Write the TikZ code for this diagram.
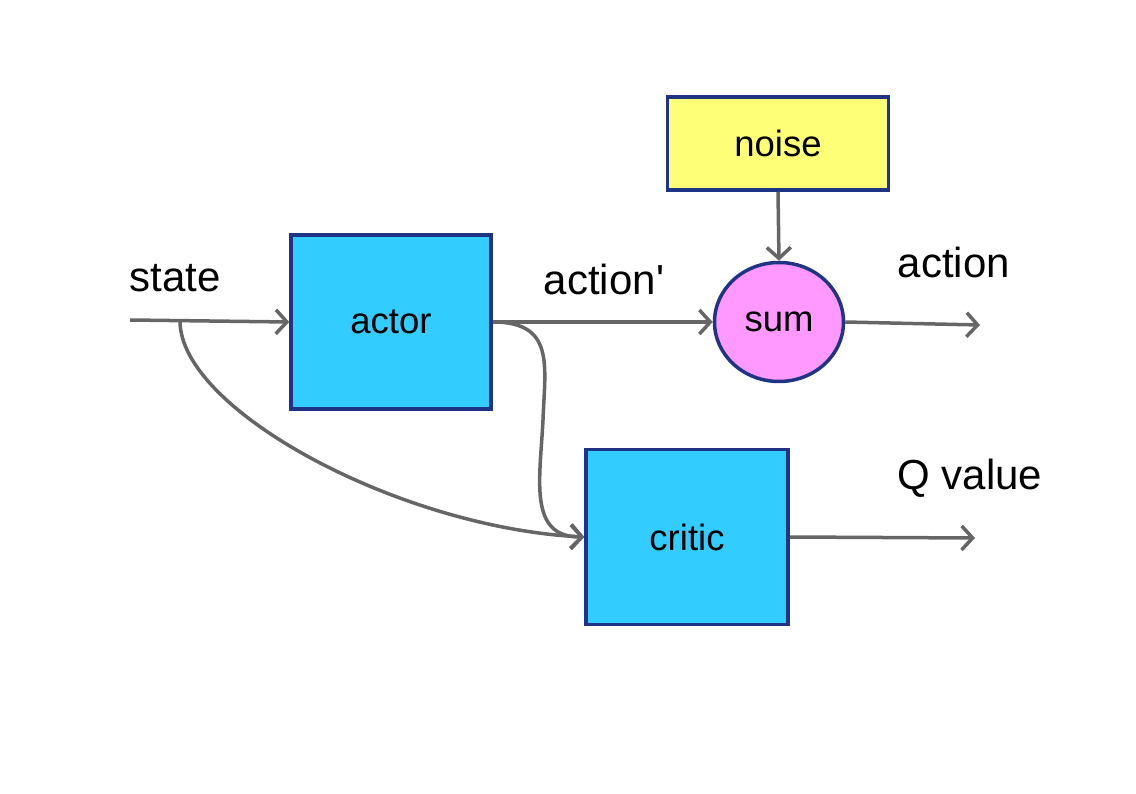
\documentclass[tikz,border=0pt]{standalone}
\usepackage{fontspec}
\setmainfont{Liberation Sans}
\usetikzlibrary{arrows.meta,shapes.geometric}
\definecolor{boxblue}{HTML}{33CCFF}
\definecolor{edgeblue}{HTML}{1F3485}
\definecolor{noisey}{HTML}{FFFF77}
\definecolor{sumpink}{HTML}{FF99FF}
\definecolor{wire}{HTML}{666666}
\begin{document}
\begin{tikzpicture}[x=1pt,y=-1pt,
  blk/.style={draw=edgeblue,line width=3.5pt,fill=boxblue,minimum width=200pt,minimum height=174pt,inner sep=0pt,font=\fontsize{36.5}{40}\selectfont},
  lbl/.style={font=\fontsize{42}{48}\selectfont,inner sep=0pt},
  wirestyle/.style={draw=wire,line width=3.5pt,-{Straight Barb[length=11pt,width=24pt]}}]
\useasboundingbox (0,0) rectangle (1136,794);
\node[blk] (actor) at (391,322) {actor};
\node[blk,minimum width=202pt,minimum height=175pt] (critic) at (687,537) {critic};
\node[blk,fill=noisey,minimum width=221pt,minimum height=93pt] (noise) at (778,143.5) {noise};
\node[ellipse,draw=edgeblue,line width=3.5pt,fill=sumpink,minimum width=129pt,minimum height=119pt,inner sep=0pt,font=\fontsize{36.5}{40}\selectfont] (sum) at (779,322) {\raisebox{-2pt}{sum}};
\coordinate (sin) at (130,320);
\coordinate (br) at (180,321);
\coordinate (aout) at (980,325);
\coordinate (qout) at (975,538);
\node[lbl] (lstate) at (175,278) {state};
\node[lbl] (lact1) at (604,279) {action\textquotesingle};
\node[lbl] (lact) at (954,262) {action};
\node[lbl] (lq) at (970,478) {Q value};
\draw[wirestyle] (sin) -- (actor.west);
\draw[wirestyle] (actor.east) -- (sum.west);
\draw[wirestyle] (noise.south) -- (sum.north);
\draw[wirestyle] (sum.east) -- (aout);
\draw[wirestyle] (critic.east) -- (qout);
\draw[wirestyle] (br) .. controls (180,410) and (400,528) .. (critic.west);
\draw[wirestyle] (actor.east) .. controls (555,322) and (545,365) .. (543,420) .. controls (540,480) and (528,537) .. (critic.west);
\end{tikzpicture}
\end{document}
